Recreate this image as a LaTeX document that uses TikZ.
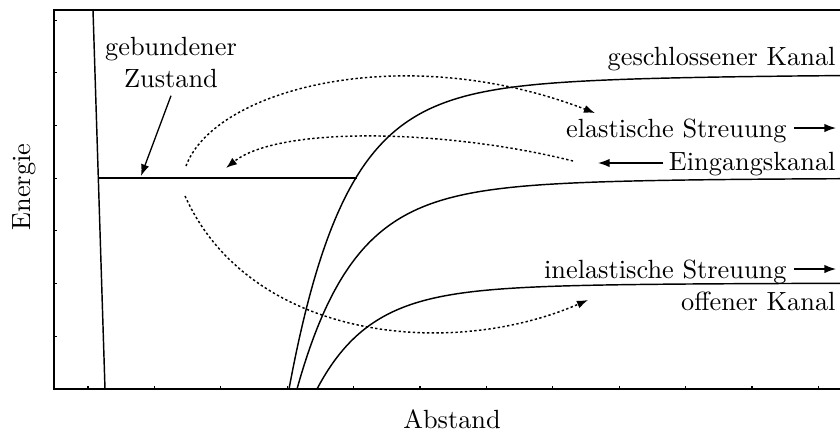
\documentclass[tikz,border=0pt]{standalone}
\usetikzlibrary{arrows.meta}
\begin{document}
\begin{tikzpicture}[x=0.38pt,y=-0.38pt,
  frame/.style={line width=1pt},
  pot/.style={line width=0.55pt},
  tickmark/.style={line width=0.45pt},
  dotarr/.style={line width=0.55pt, dash pattern=on 0.9pt off 0.9pt, -{Latex[length=4.2pt,width=3.1pt]}},
  arr/.style={line width=0.5pt, -{Latex[length=4.4pt,width=3.2pt]}},
  lbl/.style={inner sep=0pt}]
\useasboundingbox (0,0) rectangle (840,432);
% frame
\draw[frame] (846,10) -- (54,10) -- (54,389) -- (846,389);
\foreach \yy in {20.1,72.8,125.5,178.2,230.9,283.6,336.3}
  \draw[tickmark] (54,\yy) -- (57,\yy);
\foreach \i in {0,...,11}
  \draw[tickmark] ({88+66.4*\i},389) -- ++(0,-3);
% axis labels
\node[lbl] (xlab) at (452,419) {Abstand};
\node[lbl, rotate=90] (ylab) at (24,187) {Energie};
% repulsive wall and bound state
\coordinate (wallTop) at (93,10);
\coordinate (wallBot) at (105,389);
\draw[pot] (wallTop) -- (wallBot);
\coordinate (bsL) at (97.7,178);
\coordinate (bsR) at (357,178);
\draw[pot] (bsL) -- (bsR);
% potential curves
\draw[pot, domain=289:846, samples=160, variable=\x, smooth]
  plot (\x, {74 + 290*exp(-(\x-289)/55) + 25*exp(-(\x-289)/200)});
\draw[pot, domain=297:846, samples=160, variable=\x, smooth]
  plot (\x, {178 + 190*exp(-(\x-297)/55) + 21*exp(-(\x-297)/160)});
\draw[pot, domain=317:846, samples=160, variable=\x, smooth]
  plot (\x, {283 + 95*exp(-(\x-317)/52) + 11*exp(-(\x-317)/150)});
% labels
\node[lbl, anchor=base] (bound1) at (171,55) {gebundener};
\node[lbl, anchor=base] (bound2) at (171,87) {Zustand};
\coordinate (bsTip) at (141,176);
\draw[arr] ([yshift=-3pt]bound2.south) -- (bsTip);
\node[lbl, anchor=base east] (closed) at (836,65) {geschlossener Kanal};
\node[lbl, anchor=base east] (elas) at (787,137) {elastische Streuung};
\coordinate (elasTail) at (794,128);
\coordinate (elasTip) at (836,128);
\draw[arr] (elasTail) -- (elasTip);
\node[lbl, anchor=base east] (entr) at (836,170) {Eingangskanal};
\coordinate (entrTail) at (663,163);
\coordinate (entrTip) at (598,163);
\draw[arr] (entrTail) -- (entrTip);
\node[lbl, anchor=base east] (inel) at (787,278) {inelastische Streuung};
\coordinate (inelTail) at (794,269);
\coordinate (inelTip) at (836,269);
\draw[arr] (inelTail) -- (inelTip);
\node[lbl, anchor=base east] (open) at (836,310) {offener Kanal};
% dotted transitions
\coordinate (aS) at (186,166);
\coordinate (aE) at (595,113);
\draw[dotarr] (aS) .. controls (215,88) and (405,40) .. (aE);
\coordinate (bS) at (573,161);
\coordinate (bE) at (226,168);
\draw[dotarr] (bS) .. controls (450,130) and (280,125) .. (bE);
\coordinate (cS) at (185,196);
\coordinate (cE) at (588,300);
\draw[dotarr] (cS) .. controls (250,340) and (450,360) .. (cE);
\end{tikzpicture}
\end{document}
